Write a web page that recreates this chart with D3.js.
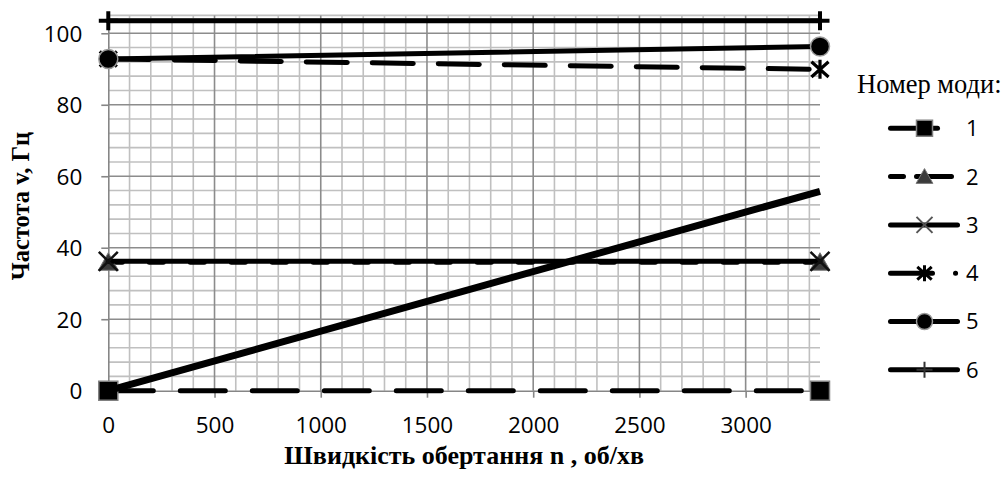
<!DOCTYPE html>
<html>
<head>
<meta charset="utf-8">
<script src="https://cdn.jsdelivr.net/npm/d3@7"></script>
<style>
  html, body { margin: 0; padding: 0; background: #fff; }
  svg { display: block; }
</style>
</head>
<body>
<svg id="chart" width="1005" height="477"></svg>
<script>
// ---- data ----
const speeds = [0, 3350];                 // n, об/хв
const mode1 = [0, 0];
const mode2 = [35.95, 35.95];
const mode3 = [36.2, 36.2];
const mode4 = [92.8, 89.9];
const mode5 = [92.8, 96.3];
const mode6 = [103.5, 103.5];
const excitation = [0, 55.8];             // n/60 line
const modeLabels = ["1", "2", "3", "4", "5", "6"];
const xTicks = [0, 500, 1000, 1500, 2000, 2500, 3000];
const yTicks = [0, 20, 40, 60, 80, 100];
const legendTitle = "Номер моди:";
const xTitle = "Швидкість обертання n , об/хв";
const yTitle = "Частота v, Гц";

// ---- symbols ----
const symX = { draw(c, s) { const r = Math.sqrt(s) / 2; c.moveTo(-r, -r); c.lineTo(r, r); c.moveTo(-r, r); c.lineTo(r, -r); } };
const symStar = { draw(c, s) { const r = Math.sqrt(s) / 2; c.moveTo(-r*0.9, -r*0.8); c.lineTo(r*0.9, r*0.8); c.moveTo(-r*0.9, r*0.8); c.lineTo(r*0.9, -r*0.8); c.moveTo(0, -r); c.lineTo(0, r); } };
const symPlus = { draw(c, s) { const r = Math.sqrt(s) / 2; c.moveTo(-r, 0); c.lineTo(r, 0); c.moveTo(0, -r); c.lineTo(0, r); } };
const symSq = { draw(c, s) { const r = Math.sqrt(s) / 2; c.rect(-r, -r, 2*r, 2*r); } };
const symTri = { draw(c, s) { const r = Math.sqrt(s) / 2; c.moveTo(0, -r); c.lineTo(r*1.05, r*0.85); c.lineTo(-r*1.05, r*0.85); c.closePath(); } };
const symCirc = { draw(c, s) { const r = Math.sqrt(s) / 2; c.moveTo(r, 0); c.arc(0, 0, r, 0, 2*Math.PI); } };

const series = [
  { key: "1", values: mode1, dash: "45,27", legDash: "47,40", sym: symSq, fill: "#000", stroke: "#808080", sw: 1.5, legStroke: "#808080", legSw: 1.5 },
  { key: "2", values: mode2, dash: "14,27", legDash: "13,13,35,20", sym: symTri, fill: "#3a3a3a", stroke: "#7a7a7a", sw: 1, legStroke: "#7a7a7a", legSw: 1 },
  { key: "3", values: mode3, dash: null, legDash: null, sym: symX, fill: "none", stroke: "#111", sw: 2.5, legStroke: "#555", legSw: 2 },
  { key: "4", values: mode4, dash: "41,25", legDash: "42,23,0.1,100", sym: symStar, fill: "none", stroke: "#000", sw: 3.2, legStroke: "#000", legSw: 3 },
  { key: "5", values: mode5, dash: null, legDash: null, sym: symCirc, fill: "#000", stroke: "#9a9a9a", sw: 1.5, legStroke: "#9a9a9a", legSw: 1.5 },
  { key: "6", values: mode6, dash: null, legDash: null, sym: symPlus, fill: "none", stroke: "#000", sw: 4, legStroke: "#333", legSw: 2 }
];

// ---- layout ----
const svg = d3.select("#chart");
const pLeft = 108.3, pRight = 820, pTop = 15.4, pBottom = 390.7;
const x = d3.scaleLinear().domain([0, 3350]).range([pLeft, pRight]);
const y = d3.scaleLinear().domain([0, 105]).range([pBottom, pTop]);

const tickFont = "'Open Sans', sans-serif";
const serif = "'Liberation Serif', 'Times New Roman', serif";

// grid
const g = svg.append("g");
const minorX = d3.range(0, 3351, 100).filter(v => v % 500 !== 0);
const minorY = d3.range(0, 105, 4).filter(v => v % 20 !== 0);
g.selectAll(".mx").data(minorX).join("line")
  .attr("x1", d => x(d)).attr("x2", d => x(d)).attr("y1", pTop).attr("y2", pBottom)
  .attr("stroke", "#c0c0c0").attr("stroke-width", 1.6);
g.selectAll(".my").data(minorY).join("line")
  .attr("x1", pLeft).attr("x2", pRight).attr("y1", d => y(d)).attr("y2", d => y(d))
  .attr("stroke", "#c0c0c0").attr("stroke-width", 1.6);
g.append("line").attr("x1", pLeft).attr("x2", pRight).attr("y1", y(105)).attr("y2", y(105))
  .attr("stroke", "#c0c0c0").attr("stroke-width", 1.6);
g.selectAll(".Mx").data(xTicks.filter(d => d > 0)).join("line")
  .attr("x1", d => x(d)).attr("x2", d => x(d)).attr("y1", pTop).attr("y2", pBottom)
  .attr("stroke", "#8c8c8c").attr("stroke-width", 1.6);
g.selectAll(".My").data(yTicks.filter(d => d > 0)).join("line")
  .attr("x1", pLeft).attr("x2", pRight).attr("y1", d => y(d)).attr("y2", d => y(d))
  .attr("stroke", "#8c8c8c").attr("stroke-width", 1.6);

// axes
const xAxis = d3.axisBottom(x).tickValues(xTicks).tickFormat(d3.format("d")).tickSize(7).tickPadding(19).tickSizeOuter(0);
const yAxis = d3.axisLeft(y).tickValues(yTicks).tickFormat(d3.format("d")).tickSize(7).tickPadding(19).tickSizeOuter(0);
const xg = svg.append("g").attr("transform", `translate(0,${pBottom})`).call(xAxis);
const yg = svg.append("g").attr("transform", `translate(${pLeft},0)`).call(yAxis);
[xg, yg].forEach(a => {
  a.select(".domain").attr("stroke", "#868686").attr("stroke-width", 1.6);
  a.selectAll(".tick line").attr("stroke", "#868686").attr("stroke-width", 1.6);
  a.selectAll(".tick text").attr("font-family", tickFont).attr("font-size", 22.5).attr("fill", "#000");
});
yg.selectAll(".tick text").attr("dy", "0.36em");

// series
const line = d3.line().x(d => x(d.x)).y(d => y(d.y));
const toPts = vals => speeds.map((s, i) => ({ x: s, y: vals[i] }));
const plot = svg.append("g");

function drawSeries(s) {
  const pts = toPts(s.values);
  plot.append("path").attr("d", line(pts)).attr("fill", "none")
    .attr("stroke", "#000").attr("stroke-width", 5).attr("stroke-linecap", "round")
    .attr("stroke-dasharray", s.dash);
  plot.selectAll(null).data(pts).join("path")
    .attr("transform", d => `translate(${x(d.x)},${y(d.y)})`)
    .attr("d", d3.symbol().type(s.sym).size(19 * 19))
    .attr("fill", s.fill).attr("stroke", s.stroke).attr("stroke-width", s.sw);
}
series.forEach(drawSeries);

// excitation line n/60
plot.append("path").attr("d", line(toPts(excitation))).attr("fill", "none")
  .attr("stroke", "#000").attr("stroke-width", 7).attr("stroke-linecap", "butt");

// titles
svg.append("text").attr("x", (pLeft + pRight) / 2).attr("y", 464)
  .attr("text-anchor", "middle").attr("font-family", serif).attr("font-weight", "bold")
  .attr("font-size", 26).text(xTitle);
svg.append("text").attr("transform", `translate(29,${(pTop + pBottom) / 2 + 3}) rotate(-90)`)
  .attr("text-anchor", "middle").attr("font-family", serif).attr("font-weight", "bold")
  .attr("font-size", 24.5).text(yTitle);

// legend
const leg = svg.append("g");
leg.append("text").attr("x", 857).attr("y", 93).attr("font-family", serif)
  .attr("font-size", 26.5).attr("fill", "#000").text(legendTitle);
series.forEach((s, i) => {
  const ly = 128.3 + i * 48.3;
  leg.append("line").attr("x1", 890.5).attr("x2", 957.5).attr("y1", ly).attr("y2", ly)
    .attr("stroke", "#000").attr("stroke-width", 5).attr("stroke-linecap", "round")
    .attr("stroke-dasharray", s.legDash);
  leg.append("path").attr("transform", `translate(924.5,${ly})`)
    .attr("d", d3.symbol().type(s.sym).size(16 * 16))
    .attr("fill", s.fill).attr("stroke", s.legStroke).attr("stroke-width", s.legSw);
  leg.append("text").attr("x", 966).attr("y", ly).attr("dy", "0.36em")
    .attr("font-family", tickFont).attr("font-size", 22).attr("fill", "#000").text(modeLabels[i]);
});
</script>
</body>
</html>
